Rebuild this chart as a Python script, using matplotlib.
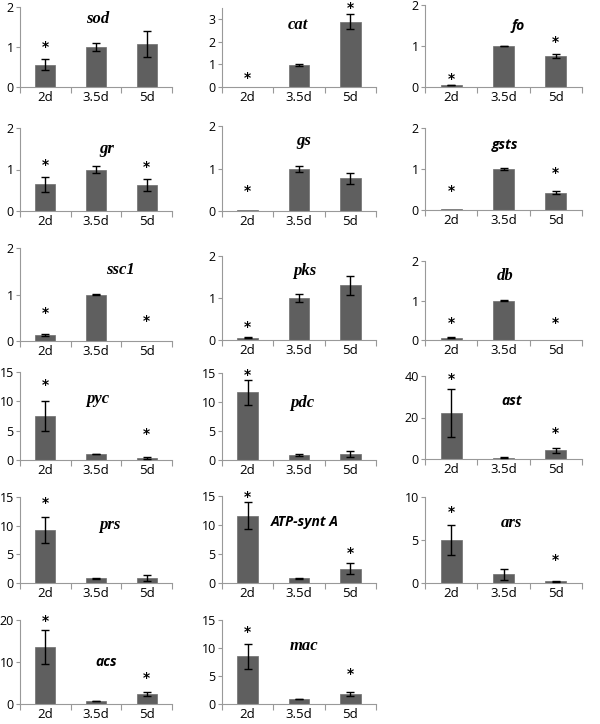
import numpy as np
import matplotlib.pyplot as plt

# data
days = ['2d', '3.5d', '5d']
genes = ['sod', 'cat', 'fo', 'gr', 'gs', 'gsts', 'ssc1', 'pks', 'db',
         'pyc', 'pdc', 'ast', 'prs', 'ATP-synt A', 'ars', 'acs', 'mac']
means = [[0.56, 1.0, 1.07], [0.0, 0.97, 2.9], [0.05, 1.0, 0.76],
         [0.64, 1.0, 0.62], [0.02, 0.98, 0.77], [0.02, 1.0, 0.42],
         [0.13, 1.0, 0.0], [0.05, 1.0, 1.3], [0.06, 1.0, 0.0],
         [7.5, 1.0, 0.4], [11.7, 0.86, 1.05], [22.0, 0.6, 4.3],
         [9.2, 0.8, 0.9], [11.6, 0.8, 2.5], [5.0, 1.0, 0.2],
         [13.6, 0.7, 2.4], [8.5, 0.9, 1.8]]
errs = [[0.13, 0.09, 0.33], [0.0, 0.04, 0.35], [0.01, 0.01, 0.05],
        [0.19, 0.09, 0.14], [0.0, 0.07, 0.13], [0.0, 0.02, 0.04],
        [0.03, 0.01, 0.0], [0.01, 0.1, 0.22], [0.02, 0.01, 0.0],
        [2.5, 0.05, 0.15], [2.15, 0.15, 0.5], [11.5, 0.2, 1.2],
        [2.3, 0.1, 0.5], [2.3, 0.1, 0.9], [1.75, 0.6, 0.05],
        [4.0, 0.05, 0.5], [2.2, 0.05, 0.4]]
# height of the significance asterisk (None = no asterisk)
stars = [[1.0, None, None], [0.39, None, 3.5], [0.19, None, 1.09],
         [1.1, None, 1.05], [0.48, None, None], [0.46, None, 0.9],
         [0.6, None, 0.44], [0.31, None, None], [0.42, None, 0.42],
         [12.8, None, 4.5], [14.6, None, None], [38.4, None, 12.6],
         [14.0, None, None], [14.8, None, 5.2], [8.3, None, 2.7],
         [19.8, None, 6.3], [12.8, None, 5.3]]
ymax = [2, 3.5, 2, 2, 2, 2, 2, 2, 2, 15, 15, 40, 15, 15, 10, 20, 15]
ystep = [1, 1, 1, 1, 1, 1, 1, 1, 1, 5, 5, 20, 5, 5, 5, 10, 5]

# layout (pixels)
W, H = 600, 724
lefts = [20, 222, 425]
rights = [172, 376, 582]
tops = [7, 8, 5, 128, 126, 128, 248, 256, 261, 372, 373, 376, 497, 496, 497, 620, 620]
bottoms = [87, 87, 87, 211, 211, 210, 341, 340, 340, 460, 460, 459, 583, 583, 583, 704, 704]
title_pos = [(0.51, 0.85), (0.49, 0.78), (0.59, 0.74), (0.57, 0.75), (0.53, 0.82),
             (0.51, 0.79), (0.66, 0.76), (0.54, 0.82), (0.51, 0.81), (0.51, 0.69),
             (0.52, 0.66), (0.55, 0.70), (0.59, 0.67), (0.54, 0.70), (0.55, 0.70),
             (0.57, 0.50), (0.53, 0.69)]
sans_titles = ['fo', 'gsts', 'ast', 'ATP-synt A', 'acs']

fig = plt.figure(figsize=(W / 100, H / 100), dpi=100)
x = np.arange(1, 4)

for i, g in enumerate(genes):
    col = i % 3
    l, r = lefts[col], rights[col]
    t, b = tops[i], bottoms[i]
    ax = fig.add_axes([l / W, 1 - b / H, (r - l) / W, (b - t) / H])
    m = np.array(means[i])
    e = np.array(errs[i])
    ax.bar(x, m, width=0.4, color='#5f5f5f', edgecolor='#6e6e6e', linewidth=0.5, zorder=2)
    has = (e > 0) & (m > 0)
    ax.errorbar(x[has], m[has], yerr=e[has], fmt='none', ecolor='black',
                elinewidth=1, capsize=3, capthick=1, zorder=3)
    for j, s in enumerate(stars[i]):
        if s is not None:
            ax.text(x[j], s, '*', ha='center', va='center', fontsize=10,
                    fontweight='bold', clip_on=False)
    if g in sans_titles:
        ax.text(title_pos[i][0], title_pos[i][1], g, transform=ax.transAxes,
                ha='center', va='center', fontsize=10, fontstyle='italic',
                fontweight='bold', family='Open Sans')
    else:
        ax.text(title_pos[i][0], title_pos[i][1], g, transform=ax.transAxes,
                ha='center', va='center', fontsize=12, fontstyle='italic',
                fontweight='bold', family='Liberation Serif')

    ax.set_xlim(0.5, 3.5)
    ax.set_ylim(0, ymax[i])
    ax.set_yticks(np.arange(0, ymax[i] + 0.01, ystep[i]))
    ax.set_xticks(x)
    ax.set_xticklabels(days)
    ax.set_xticks([0.5, 1.5, 2.5, 3.5], minor=True)
    ax.tick_params(axis='x', which='major', length=0, pad=3, labelsize=9.5)
    ax.tick_params(axis='x', which='minor', length=4, width=0.8, color='#999999', direction='out')
    ax.tick_params(axis='y', length=3, width=0.8, color='#999999', labelsize=9, pad=1.5)
    for sp in ['top', 'right']:
        ax.spines[sp].set_visible(False)
    for sp in ['left', 'bottom']:
        ax.spines[sp].set_color('#999999')
        ax.spines[sp].set_linewidth(0.8)
    for lab in ax.get_xticklabels() + ax.get_yticklabels():
        lab.set_family('Open Sans')

fig.savefig('out.png', dpi=100, facecolor='white')
